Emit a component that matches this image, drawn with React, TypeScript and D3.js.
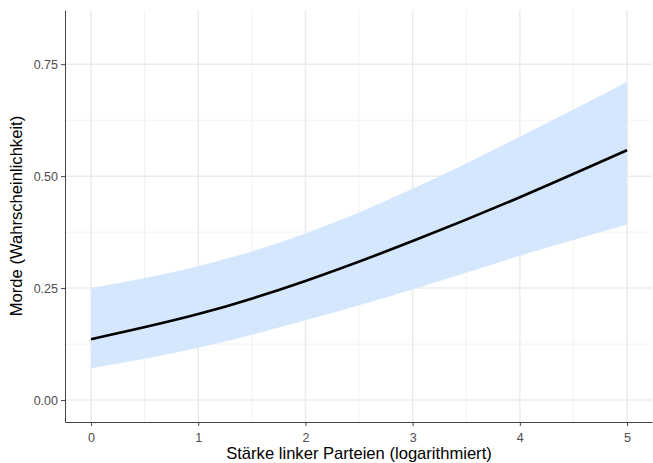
import React, { useEffect, useRef } from 'react'
import * as d3 from 'd3'

// values
const xVals = [0, 1, 2, 3, 4, 5]
const fit = [0.136, 0.192, 0.266, 0.355, 0.453, 0.558]
const lower = [0.071, 0.117, 0.178, 0.247, 0.322, 0.392]
const upper = [0.25, 0.299, 0.372, 0.472, 0.588, 0.71]
const xTicks = [0, 1, 2, 3, 4, 5]
const yTicks = [0, 0.25, 0.5, 0.75]
const xMinor = [0.5, 1.5, 2.5, 3.5, 4.5]
const yMinor = [0.125, 0.375, 0.625]

export default function App() {
  const ref = useRef<SVGSVGElement>(null)

  useEffect(() => {
    const svg = d3.select(ref.current)
    svg.selectAll('*').remove()

    const width = 653
    const height = 463
    const margin = { top: 10, right: 1, bottom: 41, left: 65 }

    const x = d3.scaleLinear()
      .domain([-0.243, 5.233])
      .range([margin.left, width - margin.right])
    const y = d3.scaleLinear()
      .domain([-0.049, 0.871])
      .range([height - margin.bottom, margin.top])

    const font = 'Liberation Sans, Arial, sans-serif'

    // grid
    const g = svg.append('g')
    g.selectAll('line.xmin').data(xMinor).enter().append('line')
      .attr('x1', d => x(d)).attr('x2', d => x(d))
      .attr('y1', margin.top).attr('y2', height - margin.bottom)
      .attr('stroke', '#f2f2f2').attr('stroke-width', 1)
    g.selectAll('line.ymin').data(yMinor).enter().append('line')
      .attr('y1', d => y(d)).attr('y2', d => y(d))
      .attr('x1', margin.left).attr('x2', width - margin.right)
      .attr('stroke', '#f2f2f2').attr('stroke-width', 1)
    g.selectAll('line.xmaj').data(xTicks).enter().append('line')
      .attr('x1', d => x(d)).attr('x2', d => x(d))
      .attr('y1', margin.top).attr('y2', height - margin.bottom)
      .attr('stroke', '#ebebeb').attr('stroke-width', 1.5)
    g.selectAll('line.ymaj').data(yTicks).enter().append('line')
      .attr('y1', d => y(d)).attr('y2', d => y(d))
      .attr('x1', margin.left).attr('x2', width - margin.right)
      .attr('stroke', '#ebebeb').attr('stroke-width', 1.5)

    const rows = xVals.map((v, i) => ({ x: v, fit: fit[i], lo: lower[i], hi: upper[i] }))

    // ribbon
    const area = d3.area<typeof rows[0]>()
      .x(d => x(d.x))
      .y0(d => y(d.lo))
      .y1(d => y(d.hi))
      .curve(d3.curveNatural)
    svg.append('path')
      .datum(rows)
      .attr('d', area)
      .attr('fill', '#d5e7fd')

    // fitted line
    const line = d3.line<typeof rows[0]>()
      .x(d => x(d.x))
      .y(d => y(d.fit))
      .curve(d3.curveNatural)
    svg.append('path')
      .datum(rows)
      .attr('d', line)
      .attr('fill', 'none')
      .attr('stroke', '#000')
      .attr('stroke-width', 2.6)

    // axes
    const xAxis = svg.append('g')
      .attr('transform', `translate(0,${height - margin.bottom})`)
      .call(d3.axisBottom(x).tickValues(xTicks).tickFormat(d3.format('d')).tickSize(4).tickSizeOuter(0))
    const yAxis = svg.append('g')
      .attr('transform', `translate(${margin.left},0)`)
      .call(d3.axisLeft(y).tickValues(yTicks).tickFormat(d3.format('.2f')).tickSize(4).tickSizeOuter(0))
    for (const ax of [xAxis, yAxis]) {
      ax.select('.domain').attr('stroke', '#444').attr('stroke-width', 1)
      ax.selectAll('.tick line').attr('stroke', '#444')
      ax.selectAll('.tick text')
        .attr('fill', '#4d4d4d')
        .attr('font-size', 12.5)
        .attr('font-family', font)
    }
    xAxis.selectAll('.tick text').attr('dy', '1.0em')

    // titles
    svg.append('text')
      .attr('x', 359)
      .attr('y', 459)
      .attr('text-anchor', 'middle')
      .attr('font-family', font)
      .attr('font-size', 16.6)
      .attr('fill', '#000')
      .text('Stärke linker Parteien (logarithmiert)')
    svg.append('text')
      .attr('transform', `translate(22,${(margin.top + height - margin.bottom) / 2}) rotate(-90)`)
      .attr('text-anchor', 'middle')
      .attr('font-family', font)
      .attr('font-size', 16.6)
      .attr('fill', '#000')
      .text('Morde (Wahrscheinlichkeit)')
  }, [])

  return (
    <div style={{ position: 'absolute', left: 0, top: 0 }}>
      <svg ref={ref} width={653} height={463} style={{ display: 'block', background: '#fff' }} />
    </div>
  )
}
